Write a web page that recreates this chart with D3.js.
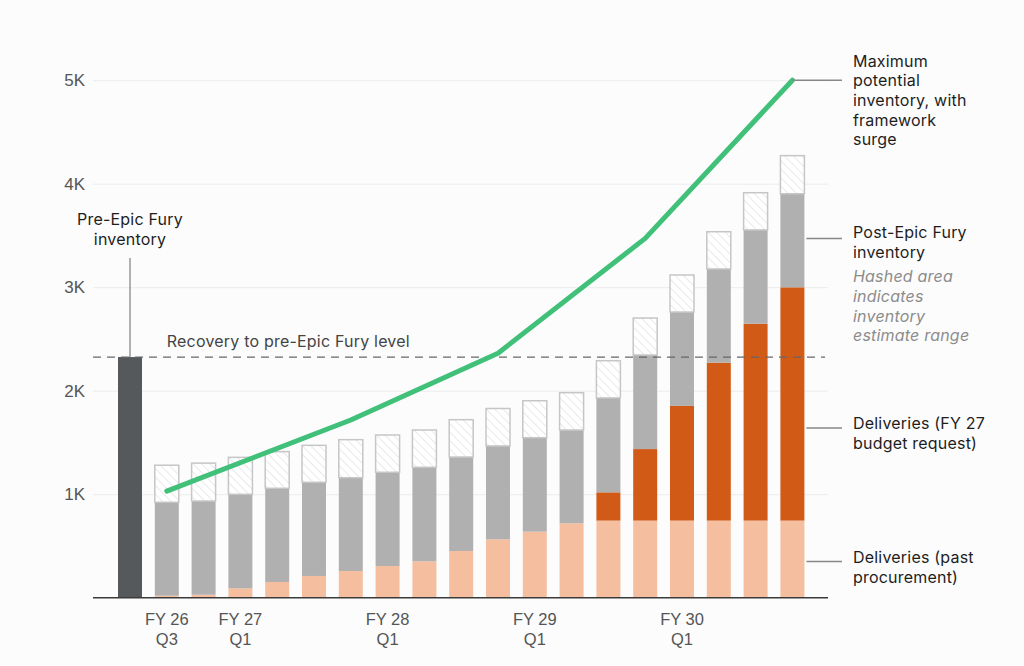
<!DOCTYPE html>
<html>
<head>
<meta charset="utf-8">
<script src="https://cdn.jsdelivr.net/npm/d3@7"></script>
<style>
  body { margin: 0; background: #fcfcfc; }
  svg { display: block; }
  .tick text { font-family: "Liberation Sans", Arial, sans-serif; fill: #555; }
  .note { font-family: Inter, "Noto Sans", sans-serif; font-size: 16px; letter-spacing: 0.2px; fill: #1e1e1e; }
</style>
</head>
<body>
<svg id="chart"></svg>
<script>
// quarters after the pre-Epic Fury bar
const quarters = [
  'FY26 Q3', 'FY26 Q4',
  'FY27 Q1', 'FY27 Q2', 'FY27 Q3', 'FY27 Q4',
  'FY28 Q1', 'FY28 Q2', 'FY28 Q3', 'FY28 Q4',
  'FY29 Q1', 'FY29 Q2', 'FY29 Q3', 'FY29 Q4',
  'FY30 Q1', 'FY30 Q2', 'FY30 Q3', 'FY30 Q4'
];
const preEpicLabel = 'Pre';
const preEpicInventory = 2325;

const pastDeliveries   = [19, 29, 91, 152, 210, 258, 306, 352, 451, 564, 638, 719, 745, 745, 745, 745, 745, 745];
const budgetDeliveries = [0, 0, 0, 0, 0, 0, 0, 0, 0, 0, 0, 0, 273, 691, 1108, 1526, 1902, 2254];
const inventoryLow     = [922, 934, 999, 1057, 1115, 1159, 1212, 1260, 1359, 1466, 1546, 1620, 1930, 2345, 2760, 3176, 3553, 3903];
const inventoryHigh    = [1280, 1300, 1356, 1411, 1472, 1527, 1572, 1620, 1720, 1828, 1903, 1981, 2290, 2702, 3118, 3536, 3913, 4271];

const surgeQuarters = ['FY26 Q3', 'FY27 Q4', 'FY28 Q4', 'FY29 Q4', 'FY30 Q4'];
const surgeValues   = [1030, 1717, 2362, 3472, 5000];

const yTicks = [1000, 2000, 3000, 4000, 5000];
const xTickLabels = { 'FY26 Q3': ['FY 26', 'Q3'], 'FY27 Q1': ['FY 27', 'Q1'], 'FY28 Q1': ['FY 28', 'Q1'],
                      'FY29 Q1': ['FY 29', 'Q1'], 'FY30 Q1': ['FY 30', 'Q1'] };

const width = 1024, height = 666;
const svg = d3.select('#chart').attr('width', width).attr('height', height);

const plotLeft = 93, plotRight = 828;

const x = d3.scaleBand()
  .domain([preEpicLabel, ...quarters])
  .range([111.6, 810.8])
  .paddingInner(0.348)
  .paddingOuter(0.174);

const y = d3.scaleLinear().domain([0, 5000]).range([597.7, 80.2]);

// hatch pattern
const defs = svg.append('defs');
const pat = defs.append('pattern')
  .attr('id', 'hatch')
  .attr('patternUnits', 'userSpaceOnUse')
  .attr('width', 6).attr('height', 6)
  .attr('patternTransform', 'rotate(-45)');
pat.append('rect').attr('width', 6).attr('height', 6).attr('fill', '#ffffff');
pat.append('line').attr('x1', 0).attr('y1', 0).attr('x2', 0).attr('y2', 6)
  .attr('stroke', '#d4d4d4').attr('stroke-width', 1);

// grid + y labels
const yAxis = d3.axisLeft(y).tickValues(yTicks).tickFormat(d => (d / 1000) + 'K')
  .tickSize(-(plotRight - plotLeft)).tickPadding(8);
const gy = svg.append('g').attr('transform', `translate(${plotLeft},0)`).call(yAxis);
gy.select('.domain').remove();
gy.selectAll('.tick line').attr('stroke', '#ececec').attr('stroke-width', 1);
gy.selectAll('.tick text').attr('font-size', 17).attr('x', -8);

// stacked bars
const table = quarters.map((q, i) => ({
  q,
  past: pastDeliveries[i],
  budget: budgetDeliveries[i],
  inventory: inventoryLow[i] - pastDeliveries[i] - budgetDeliveries[i],
  range: inventoryHigh[i] - inventoryLow[i]
}));
const keys = ['past', 'budget', 'inventory', 'range'];
const colors = { past: '#f5bf9f', budget: '#d05a16', inventory: '#b0b0b0', range: 'url(#hatch)' };
const series = d3.stack().keys(keys)(table);

svg.append('g').selectAll('g')
  .data(series)
  .join('g')
  .attr('fill', d => colors[d.key])
  .attr('stroke', d => d.key === 'range' ? '#c6c6c6' : null)
  .attr('stroke-width', d => d.key === 'range' ? 1.5 : null)
  .selectAll('rect')
  .data(d => d.filter(s => s[1] - s[0] > 0))
  .join('rect')
  .attr('x', d => x(d.data.q))
  .attr('width', x.bandwidth())
  .attr('y', d => y(d[1]))
  .attr('height', d => y(d[0]) - y(d[1]));

// pre-Epic Fury bar
svg.append('rect')
  .attr('x', x(preEpicLabel))
  .attr('width', x.bandwidth())
  .attr('y', y(preEpicInventory))
  .attr('height', y(0) - y(preEpicInventory))
  .attr('fill', '#56595b');

// recovery line
svg.append('line')
  .attr('x1', plotLeft).attr('x2', plotRight - 3)
  .attr('y1', y(preEpicInventory)).attr('y2', y(preEpicInventory))
  .attr('stroke', '#666').attr('stroke-width', 1.2)
  .attr('stroke-dasharray', '8,6');

svg.append('text').attr('class', 'note')
  .attr('x', x('FY26 Q3') + x.bandwidth() / 2)
  .attr('y', y(preEpicInventory) - 10)
  .style('fill', '#444')
  .text('Recovery to pre-Epic Fury level');

// baseline
svg.append('line')
  .attr('x1', plotLeft).attr('x2', plotRight)
  .attr('y1', y(0)).attr('y2', y(0))
  .attr('stroke', '#3a3a3a').attr('stroke-width', 1.5);

// x labels
const xAxis = d3.axisBottom(x).tickValues(Object.keys(xTickLabels)).tickSize(0).tickPadding(0).tickFormat('');
const gx = svg.append('g').attr('transform', `translate(0,${y(0)})`).call(xAxis);
gx.select('.domain').remove();
gx.selectAll('.tick').each(function(d) {
  const t = d3.select(this).append('text')
    .attr('text-anchor', 'middle').attr('font-size', 16.5).attr('fill', '#555')
    .style('font-family', '"Liberation Sans", Arial, sans-serif');
  xTickLabels[d].forEach((s, i) => {
    t.append('tspan').attr('x', 0).attr('y', 27 + i * 20).text(s);
  });
});

// surge line
const line = d3.line()
  .x((d, i) => x(surgeQuarters[i]) + x.bandwidth() / 2)
  .y(d => y(d));
svg.append('path')
  .datum(surgeValues)
  .attr('d', line)
  .attr('fill', 'none')
  .attr('stroke', '#41c07a')
  .attr('stroke-width', 5)
  .attr('stroke-linejoin', 'round')
  .attr('stroke-linecap', 'round');

// annotations
const noteX = 853;
const lastX = x(quarters[quarters.length - 1]);
const leaderStart = lastX + x.bandwidth() + 2;
const leaderEnd = 842;

function note(lines, yFirst, opts = {}) {
  const t = svg.append('text').attr('class', 'note');
  if (opts.italic) t.style('font-style', 'italic').style('fill', '#8c8c8c');
  lines.forEach((s, i) => t.append('tspan').attr('x', noteX).attr('y', yFirst + i * 19.6).text(s));
}

// max potential
svg.append('line')
  .attr('x1', lastX + x.bandwidth() / 2).attr('x2', leaderEnd)
  .attr('y1', y(surgeValues[surgeValues.length - 1])).attr('y2', y(surgeValues[surgeValues.length - 1]))
  .attr('stroke', '#888').attr('stroke-width', 1.5);
note(['Maximum', 'potential', 'inventory, with', 'framework', 'surge'], 66.7);

const leaders = [3470, 1640, 350];
leaders.forEach(v => {
  svg.append('line')
    .attr('x1', leaderStart).attr('x2', leaderEnd)
    .attr('y1', y(v)).attr('y2', y(v))
    .attr('stroke', '#888').attr('stroke-width', 1.5);
});
note(['Post-Epic Fury', 'inventory'], 238.3);
note(['Hashed area', 'indicates', 'inventory', 'estimate range'], 282.3, { italic: true });
note(['Deliveries (FY 27', 'budget request)'], 429.3);
note(['Deliveries (past', 'procurement)'], 563.3);

// pre-Epic label
const preCx = x(preEpicLabel) + x.bandwidth() / 2;
svg.append('line')
  .attr('x1', preCx).attr('x2', preCx)
  .attr('y1', 258).attr('y2', y(preEpicInventory))
  .attr('stroke', '#666').attr('stroke-width', 1);
const pt = svg.append('text').attr('class', 'note').attr('text-anchor', 'middle');
pt.append('tspan').attr('x', preCx).attr('y', 225).text('Pre-Epic Fury');
pt.append('tspan').attr('x', preCx).attr('y', 245).text('inventory');
</script>
</body>
</html>
